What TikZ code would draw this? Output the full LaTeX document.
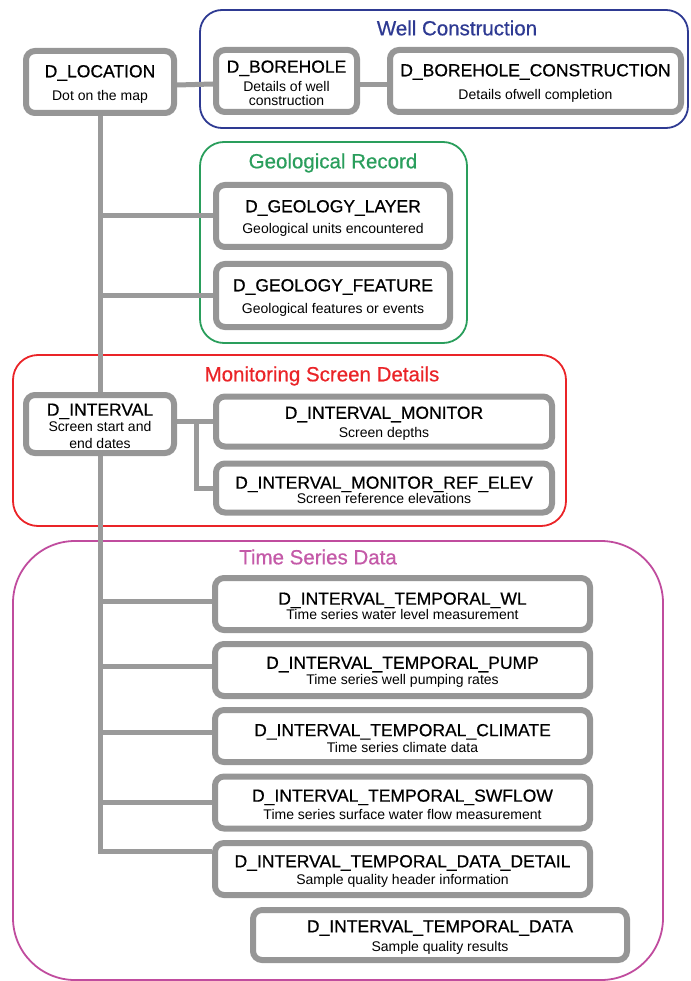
\documentclass[tikz,border=0pt]{standalone}
\usepackage{fontspec}
\setmainfont{Liberation Sans}
\newfontfamily\headfont{Liberation Sans}[FakeBold=0.6]
\usetikzlibrary{calc}

\definecolor{boxgray}{HTML}{969696}
\definecolor{linkgray}{HTML}{9A9A9A}
\definecolor{wellblue}{HTML}{2E3A92}
\definecolor{geogreen}{HTML}{2A9E5C}
\definecolor{monred}{HTML}{EA2428}
\definecolor{tsmagenta}{HTML}{C04C9E}
\definecolor{tstitle}{HTML}{C45AA8}

\pgfdeclarelayer{frames}
\pgfdeclarelayer{links}
\pgfsetlayers{frames,links,main}

% table title line (the strut pushes the text block slightly down)
\newcommand\tabname[1]{{\headfont\fontsize{17.5}{15}\selectfont\rule{0pt}{16.5pt}#1}}

\begin{document}
\begin{tikzpicture}[x=1pt,y=-1pt,
  tbl/.style={draw=boxgray, line width=6pt, rounded corners=9pt, fill=white,
    inner sep=0pt, align=center, font=\fontsize{14}{15}\selectfont},
  link/.style={draw=linkgray, line width=5pt, line join=miter},
  grp/.style={line width=1.8pt},
  grptitle/.style={font=\headfont\fontsize{20.5}{22}\selectfont, inner sep=0pt}]

\useasboundingbox (0,0) rectangle (690,981);

% group frames
\begin{pgfonlayer}{frames}
\draw[grp, draw=wellblue, rounded corners=22pt] (200,10) rectangle (688,128);
\draw[grp, draw=geogreen, rounded corners=24pt] (200,142) rectangle (467,343);
\draw[grp, draw=monred, rounded corners=25pt] (13,355) rectangle (566,526);
\draw[grp, draw=tsmagenta, rounded corners=62pt] (13,541) rectangle (663,980);
\end{pgfonlayer}

\node[grptitle, text=wellblue] (twell) at (457,28) {Well Construction};
\node[grptitle, text=geogreen] (tgeo) at (333,163) {Geological Record};
\node[grptitle, text=monred] (tmon) at (322,376) {Monitoring Screen Details};
\node[grptitle, text=tstitle] (tts) at (318,557) {Time Series Data};

% tables
\node[tbl, minimum width=148pt, minimum height=62pt] (loc) at (100,82)
  {\tabname{D\_LOCATION}\\[8pt]Dot on the map};
\node[tbl, minimum width=141pt, minimum height=62pt] (bore) at (286.5,81)
  {\tabname{D\_BOREHOLE}\\[4pt]Details of well\\[-1pt]construction};
\node[tbl, minimum width=291pt, minimum height=62pt] (borecon) at (535.5,81)
  {\tabname{D\_BOREHOLE\_CONSTRUCTION}\\[8pt]Details ofwell completion};

\node[tbl, minimum width=234pt, minimum height=62pt] (geolayer) at (333,216)
  {\tabname{D\_GEOLOGY\_LAYER}\\[6pt]Geological units encountered};
\node[tbl, minimum width=234pt, minimum height=63pt] (geofeat) at (333,295.5)
  {\tabname{D\_GEOLOGY\_FEATURE}\\[7pt]Geological features or events};

\node[tbl, minimum width=148pt, minimum height=58pt] (interval) at (100,424)
  {\tabname{D\_INTERVAL}\\[1pt]Screen start and\\[2pt]end dates};
\node[tbl, minimum width=336pt, minimum height=50pt] (mon) at (384,421.5)
  {\tabname{D\_INTERVAL\_MONITOR}\\[4pt]Screen depths};
\node[tbl, minimum width=336pt, minimum height=49pt] (refelev) at (384,488)
  {\tabname{D\_INTERVAL\_MONITOR\_REF\_ELEV}\\[0pt]Screen reference elevations};

\node[tbl, minimum width=375pt, minimum height=52pt] (wl) at (402.5,604)
  {\tabname{D\_INTERVAL\_TEMPORAL\_WL}\\[0pt]Time series water level measurement};
\node[tbl, minimum width=375pt, minimum height=52pt] (pump) at (402.5,670)
  {\tabname{D\_INTERVAL\_TEMPORAL\_PUMP}\\[1pt]Time series well pumping rates};
\node[tbl, minimum width=375pt, minimum height=52pt] (climate) at (402.5,736)
  {\tabname{D\_INTERVAL\_TEMPORAL\_CLIMATE}\\[1pt]Time series climate data};
\node[tbl, minimum width=375pt, minimum height=52pt] (swflow) at (402.5,802.5)
  {\tabname{D\_INTERVAL\_TEMPORAL\_SWFLOW}\\[3pt]Time series surface water flow measurement};
\node[tbl, minimum width=375pt, minimum height=52pt] (detail) at (402.5,869)
  {\tabname{D\_INTERVAL\_TEMPORAL\_DATA\_DETAIL}\\[2pt]Sample quality header information};
\node[tbl, minimum width=374pt, minimum height=50pt] (tdata) at (440,935)
  {\tabname{D\_INTERVAL\_TEMPORAL\_DATA}\\[4pt]Sample quality results};

% connectors, drawn behind the tables
\coordinate (trunkend) at (100,851);
\coordinate (split) at (196,0);
\begin{pgfonlayer}{links}
\draw[link] ([yshift=-3pt]loc.east) -- ([yshift=-3pt]bore.west);
\draw[link] ([yshift=-4pt]bore.east) -- ([yshift=-4pt]borecon.west);
\draw[link] (loc.south) -- (interval.north);
\draw[link] (geolayer.west -| loc.south) -- (geolayer.west);
\draw[link] (geofeat.west -| loc.south) -- (geofeat.west);
\draw[link] (mon.west -| interval.east) -- (mon.west);
\draw[link] (split |- mon.west) -- (split |- refelev.west) -- (refelev.west);
\draw[link] (interval.south) -- (trunkend) -- (trunkend -| detail.west);
\draw[link] ([yshift=3pt]wl.west -| interval.south) -- ([yshift=3pt]wl.west);
\draw[link] ([yshift=4pt]pump.west -| interval.south) -- ([yshift=4pt]pump.west);
\draw[link] ([yshift=4pt]climate.west -| interval.south) -- ([yshift=4pt]climate.west);
\draw[link] (swflow.west -| interval.south) -- (swflow.west);
\end{pgfonlayer}
\end{tikzpicture}
\end{document}
